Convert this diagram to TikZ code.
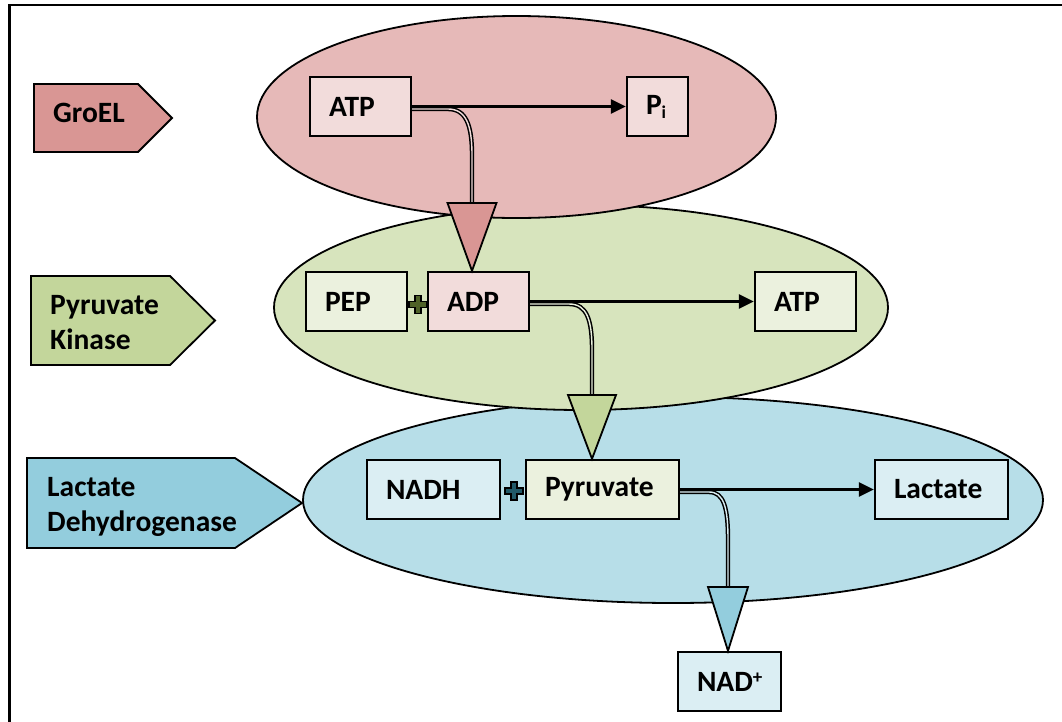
\documentclass[tikz,border=0pt]{standalone}
\usepackage{fontspec}
\setmainfont{Carlito}
\usetikzlibrary{shapes.geometric,arrows.meta,calc}
\definecolor{redE}{HTML}{E6B9B8}
\definecolor{redB}{HTML}{F2DCDB}
\definecolor{redD}{HTML}{D99694}
\definecolor{greenE}{HTML}{D7E4BD}
\definecolor{greenB}{HTML}{EBF1DE}
\definecolor{greenD}{HTML}{C3D69B}
\definecolor{blueE}{HTML}{B7DEE8}
\definecolor{blueB}{HTML}{DBEEF3}
\definecolor{blueD}{HTML}{93CDDD}
\definecolor{plusG}{HTML}{4F6228}
\definecolor{plusB}{HTML}{215968}
\newcommand\PlusMark[3]{%
  \draw[line width=1.1pt, fill=#3, shift={(#1,#2)}]
    (-3,-9) -- (3,-9) -- (3,-3) -- (9,-3) -- (9,3) -- (3,3) -- (3,9)
    -- (-3,9) -- (-3,3) -- (-9,3) -- (-9,-3) -- (-3,-3) -- cycle;}
\begin{document}
\begin{tikzpicture}[x=1pt,y=-1pt,
  txt/.style={font=\fontsize{29.5}{35}\selectfont\bfseries},
  ell/.style={ellipse, draw, line width=1.8pt, inner sep=0pt},
  box/.style={rectangle, draw, line width=2.3pt, minimum height=59pt,
    inner xsep=19pt, inner ysep=0pt, align=left, txt},
  lbl/.style={inner sep=0pt, align=left, anchor=west, txt},
  tag/.style={draw, line width=1.8pt},
  straight/.style={line width=2.4pt, -{Triangle[length=15pt,width=14pt]}},
  dbl/.style={draw=black, line width=1.5pt, double distance=1.4pt},
  tri/.style={draw, line width=1.8pt, line join=miter}
]
\useasboundingbox (0,0) rectangle (1062,721);
\fill[white] (0,0) rectangle (1062,721);
\draw[line width=2.4pt] (1075,5) -- (9.5,5) -- (9.5,735);

% enzyme tags
\draw[tag, fill=redD] (34,84) -- (138,84) -- (172,118) -- (138,152) -- (34,152) -- cycle;
\draw[tag, fill=greenD] (31,276) -- (170,276) -- (215,320.5) -- (170,365) -- (31,365) -- cycle;
\draw[tag, fill=blueD] (27,458) -- (235,458) -- (302,503) -- (235,548) -- (27,548) -- cycle;
\node[lbl] (groel) at (53,113) {GroEL};
\node[lbl] (pk) at (50,323) {Pyruvate\\Kinase};
\node[lbl] (ldh) at (47,507) {Lactate\\Dehydrogenase};

% ellipses
\node[ell, fill=blueE, minimum width=740pt, minimum height=206pt] (eB) at (673,500) {};
\node[ell, fill=greenE, minimum width=614pt, minimum height=205pt] (eG) at (581,307.5) {};
\node[ell, fill=redE, minimum width=519pt, minimum height=202pt] (eR) at (516.5,117) {};

% boxes
\node[box, fill=redB, text width=63pt] (atp1) at (360.5,106.5) {ATP};
\node[box, fill=redB, text width=23pt] (pi) at (657.5,106.5) {P\raisebox{-4pt}{\fontsize{18}{18}\selectfont i}};
\node[box, fill=greenB, text width=63pt] (pep) at (356.5,301.5) {PEP};
\node[box, fill=redB, text width=63pt] (adp) at (478.5,301.5) {ADP};
\node[box, fill=greenB, text width=63pt] (atp2) at (805.5,301.5) {ATP};
\node[box, fill=blueB, text width=95pt] (nadh) at (433.5,489.5) {NADH};
\node[box, fill=greenB, text width=115pt] (pyr) at (602.5,489.5) {Pyruvate};
\node[box, fill=blueB, text width=95pt] (lac) at (941.5,489.5) {Lactate};
\node[box, fill=blueB, text width=65pt] (nad) at (729.5,681.5) {NAD\raisebox{8pt}{\fontsize{19}{19}\selectfont +}};

\PlusMark{418}{304.5}{plusG}
\PlusMark{514}{491}{plusB}

% straight arrows
\draw[straight] (atp1.east) -- (pi.west);
\draw[straight] (adp.east) -- (atp2.west);
\draw[straight] (pyr.east) -- (lac.west);

% bent double arrows
\coordinate (t1) at (472,203);
\coordinate (t2) at (592,395);
\coordinate (t3) at (728,587);
\draw[dbl, double=redB] ($(atp1.east)+(0,2.5)$) -- (448,109)
  .. controls (466,109) and (472,125) .. (472,155) -- (t1);
\draw[dbl, double=greenB] ($(adp.east)+(0,2.5)$) -- (569,304)
  .. controls (587,304) and (592,320) .. (592,350) -- (t2);
\draw[dbl, double=blueB] ($(pyr.east)+(0,2.5)$) -- (709,492)
  .. controls (724,492) and (728,508) .. (728,540) -- (t3);

\draw[tri, fill=redD] ($(t1)+(-24.5,0)$) -- ($(t1)+(24.5,0)$) -- (t1 |- adp.north) -- cycle;
\draw[tri, fill=greenD] ($(t2)+(-24,0)$) -- ($(t2)+(24,0)$) -- (t2 |- pyr.north) -- cycle;
\draw[tri, fill=blueD] ($(t3)+(-20,0)$) -- ($(t3)+(20,0)$) -- (t3 |- nad.north) -- cycle;
\end{tikzpicture}
\end{document}
